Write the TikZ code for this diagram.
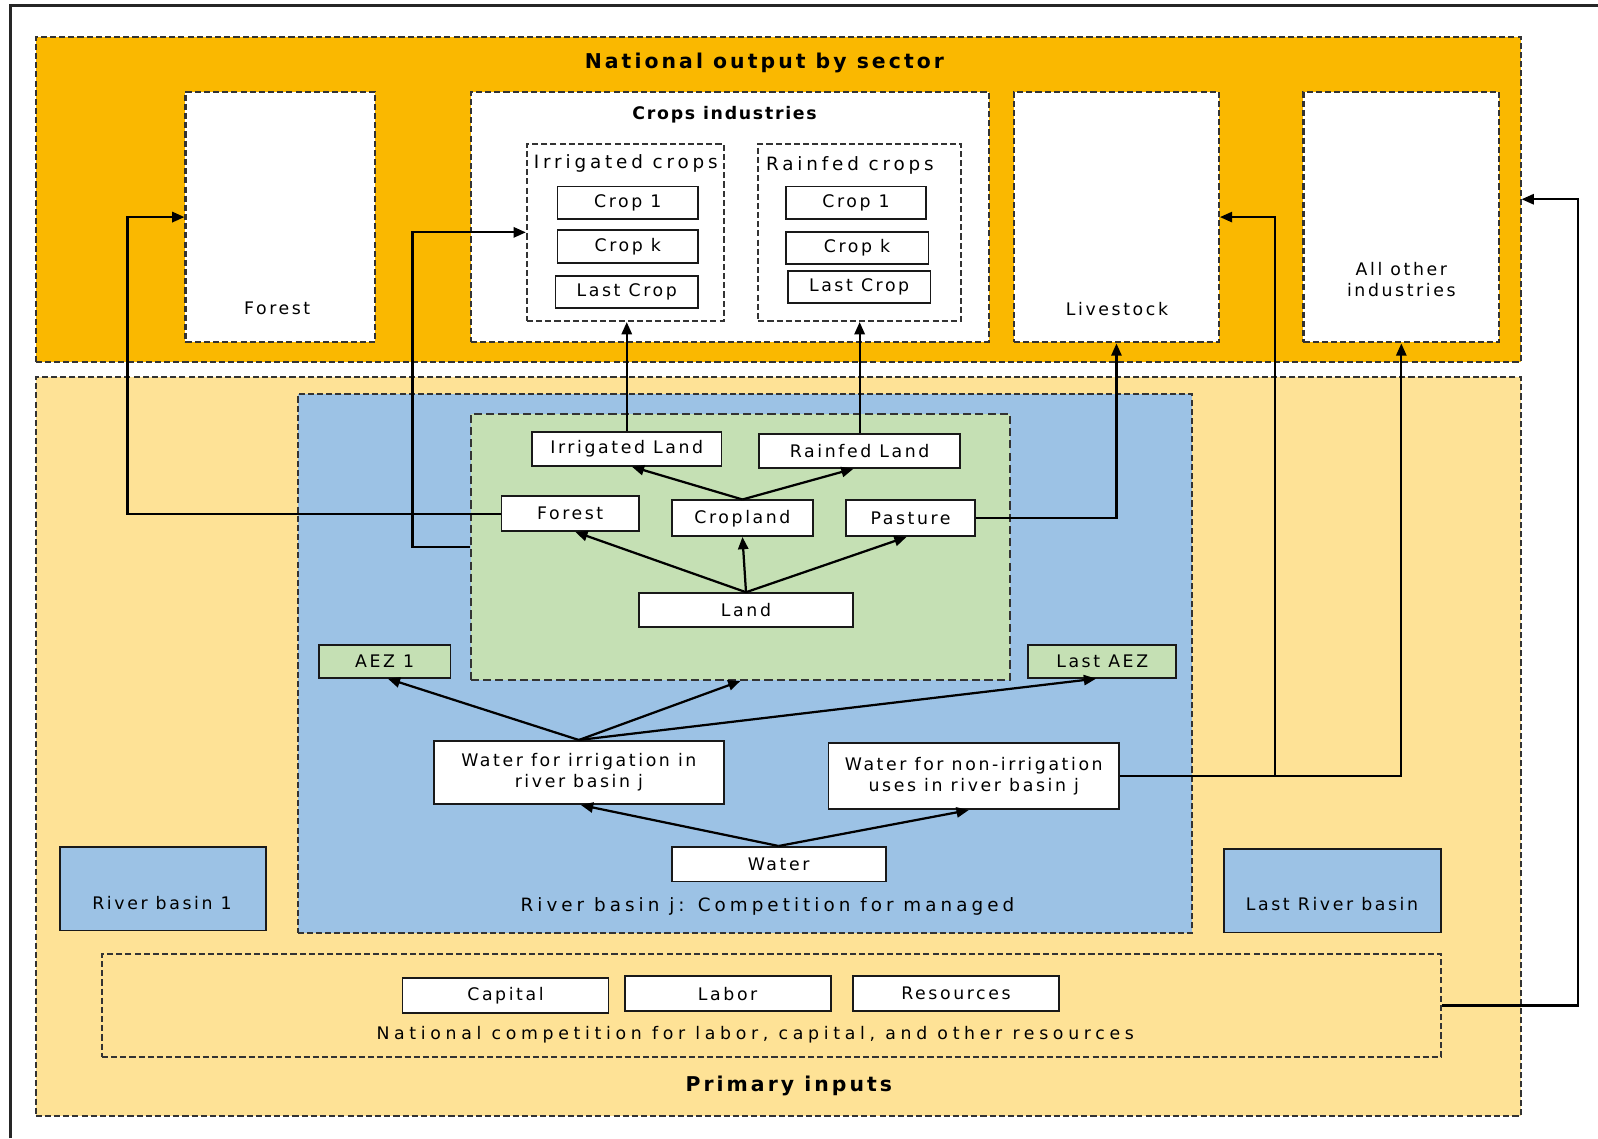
\documentclass[tikz,border=0pt]{standalone}
\usepackage{fontspec}
\setmainfont{DejaVu Sans}[LetterSpace=15]
\usetikzlibrary{arrows.meta}
\definecolor{orangeC}{RGB}{250,184,0}
\definecolor{yellowC}{RGB}{254,226,150}
\definecolor{blueC}{RGB}{156,194,229}
\definecolor{greenC}{RGB}{197,224,180}
\begin{document}
\begin{tikzpicture}[x=1pt,y=-1pt,
  cont/.style={draw=black!80, dash pattern=on 6pt off 3pt, line width=2pt, inner sep=0pt},
  bx/.style={draw=black!90, line width=1.8pt, fill=white, inner sep=0pt, align=center, font=\fontsize{17}{21}\selectfont},
  txt/.style={inner sep=0pt, align=center, font=\fontsize{17}{21}\selectfont},
  ttl/.style={inner sep=0pt, align=center, font=\bfseries\fontsize{17}{20}\selectfont\addfontfeatures{LetterSpace=10}},
  arr/.style={-{Triangle[length=12pt,width=10pt]}, line width=2.2pt, draw=black}]
\useasboundingbox (0,0) rectangle (1568,1117);
\fill[white] (0,0) rectangle (1568,1117);
% outer frame
\draw[line width=3pt, draw=black!85] (10,1117) -- (10,5) -- (1568,5);

% national output
\node[cont, fill=orangeC, minimum width=1457pt, minimum height=319pt] (orange) at (763.5,195.5) {};
\node[ttl, font=\bfseries\fontsize{20}{24}\selectfont] (tNat) at (750,62) {National output by sector};
\node[cont, fill=white, minimum width=186pt, minimum height=246pt] (forestI) at (275,213) {};
\node[txt] (tForest) at (272,303) {Forest};
\node[cont, fill=white, minimum width=508pt, minimum height=246pt] (crops) at (716,213) {};
\node[ttl] (tCrops) at (711,113) {Crops industries};
\node[cont, fill=white, minimum width=193pt, minimum height=174pt] (irrcrops) at (613.5,228) {};
\node[txt, font=\fontsize{18}{22}\selectfont\addfontfeatures{LetterSpace=21}] (tIrr) at (614,160) {Irrigated crops};
\node[cont, fill=white, minimum width=199pt, minimum height=174pt] (raincrops) at (843.5,228) {};
\node[txt, font=\fontsize{18}{22}\selectfont\addfontfeatures{LetterSpace=21}] (tRain) at (834,162) {Rainfed crops};
\node[bx, minimum width=138pt, minimum height=32pt] (crop1i) at (616,199) {Crop 1};
\node[bx, minimum width=138pt, minimum height=32pt] (cropki) at (616,242) {Crop k};
\node[bx, minimum width=140pt, minimum height=31pt] (lasti) at (615,286.5) {Last Crop};
\node[bx, minimum width=138pt, minimum height=32pt] (crop1r) at (840,199) {Crop 1};
\node[bx, minimum width=140pt, minimum height=31pt] (cropkr) at (841,243.5) {Crop k};
\node[bx, minimum width=140pt, minimum height=31pt] (lastr) at (843,281.5) {Last Crop};
\node[cont, fill=white, minimum width=201pt, minimum height=246pt] (livestock) at (1095.5,213) {};
\node[txt] (tLive) at (1096,303) {Livestock};
\node[cont, fill=white, minimum width=192pt, minimum height=246pt] (allother) at (1375,213) {};
\node[txt] (tAll) at (1375,274) {All other\\industries};

% primary inputs
\node[cont, fill=yellowC, minimum width=1457pt, minimum height=725pt] (primary) at (763.5,732.5) {};
\node[ttl, font=\bfseries\fontsize{20}{24}\selectfont] (tPrim) at (774,1066) {Primary inputs};
\node[cont, fill=blueC, minimum width=878pt, minimum height=528pt] (blue) at (731,651) {};
\node[txt, font=\fontsize{18}{22}\selectfont\addfontfeatures{LetterSpace=22}] (tBlue) at (753,889) {River basin j: Competition for managed};
\node[cont, fill=greenC, line width=2.4pt, dash pattern=on 8pt off 4pt, minimum width=529pt, minimum height=261pt] (green) at (726.5,536.5) {};

\node[bx, minimum width=186pt, minimum height=33pt] (irrland) at (615,440.5) {Irrigated Land};
\node[bx, minimum width=197pt, minimum height=33pt] (rainland) at (843.5,442.5) {Rainfed Land};
\node[bx, minimum width=135pt, minimum height=34pt] (forestL) at (559.5,504) {Forest};
\node[bx, minimum width=139pt, minimum height=35pt] (cropland) at (728.5,508.5) {Cropland};
\node[bx, minimum width=127pt, minimum height=35pt] (pasture) at (893.5,508.5) {Pasture};
\node[bx, minimum width=210pt, minimum height=33pt] (land) at (732,598.5) {Land};
\node[bx, fill=greenC, minimum width=129pt, minimum height=32pt] (aez1) at (377.5,649) {AEZ 1};
\node[bx, fill=greenC, minimum width=145pt, minimum height=32pt] (lastaez) at (1081.5,649) {Last AEZ};
\node[bx, minimum width=284pt, minimum height=62pt] (wirr) at (568,758) {Water for irrigation in\\river basin j};
\node[bx, minimum width=285pt, minimum height=65pt] (wnon) at (955.5,761.5) {Water for non-irrigation\\uses in river basin j};
\node[bx, minimum width=210pt, minimum height=34pt] (water) at (764,848) {Water};

\node[bx, fill=blueC, minimum width=202pt, minimum height=82pt] (rb1) at (160,872) {};
\node[txt] (tRb1) at (159,886) {River basin 1};
\node[bx, fill=blueC, minimum width=213pt, minimum height=82pt] (lastrb) at (1307.5,874) {};
\node[txt] (tLastRb) at (1307,887) {Last River basin};

\node[cont, minimum width=1314pt, minimum height=101pt] (national) at (757,986.5) {};
\node[txt, font=\fontsize{17}{21}\selectfont\addfontfeatures{LetterSpace=27}] (tNatComp) at (741,1015) {National competition for labor, capital, and other resources};
\node[bx, minimum width=202pt, minimum height=34pt] (capital) at (496,977) {Capital};
\node[bx, minimum width=202pt, minimum height=34pt] (labor) at (714,975) {Labor};
\node[bx, minimum width=202pt, minimum height=34pt] (resources) at (938,975) {Resources};

% connectors
\draw[arr] (land.north) -- (cropland.south);
\draw[arr] (land.north) -- ([xshift=5pt]forestL.south);
\draw[arr] (land.north) -- ([xshift=-4pt]pasture.south);
\draw[arr] (cropland.north) -- ([xshift=5pt]irrland.south);
\draw[arr] (cropland.north) -- ([xshift=-6pt]rainland.south);
\draw[arr] (irrland.north) -- (irrland.north |- irrcrops.south);
\draw[arr] (rainland.north) -- (rainland.north |- raincrops.south);
\draw[arr] (forestL.west) -- ++(-366,0) |- (forestI.west);
\draw[arr] (green.west) -- ++(-56,0) |- (irrcrops.west);
\draw[arr] (pasture.east) -| (livestock.south);
\coordinate (jn) at (1251,761.5);
\draw[arr] (wnon.east) -| (allother.south);
\draw[arr] (jn) |- (livestock.east);
\coordinate (rc) at (1548,986.5);
\draw[arr] (national.east) -- (rc) |- (orange.east);
\draw[arr] (wirr.north) -- ([xshift=3pt]aez1.south);
\draw[arr] (wirr.north) -- (green.south);
\draw[arr] (wirr.north) -- ([xshift=-6pt]lastaez.south);
\draw[arr] (water.north) -- ([xshift=2pt]wirr.south);
\draw[arr] (water.north) -- ([xshift=-5pt]wnon.south);
\end{tikzpicture}
\end{document}
